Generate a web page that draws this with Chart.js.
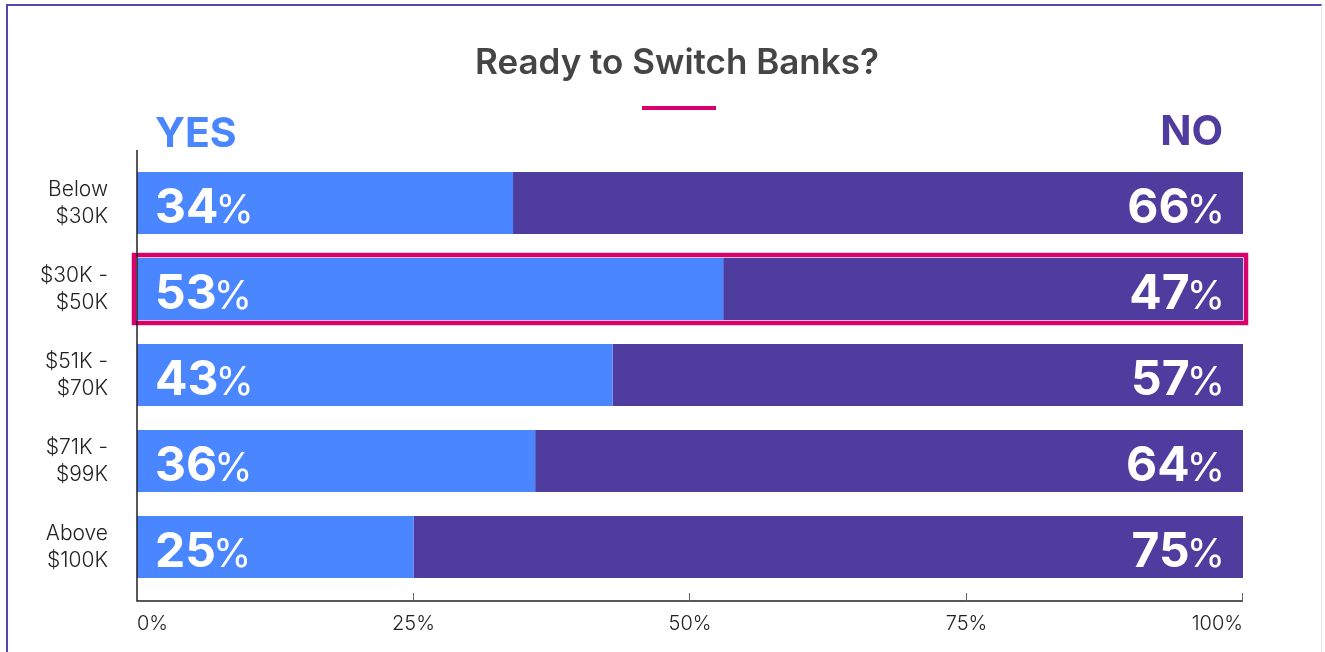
<!DOCTYPE html>
<html>
<head>
<meta charset="utf-8">
<script src="https://cdn.jsdelivr.net/npm/chart.js@4"></script>
<style>
  html, body { margin: 0; padding: 0; background: #fff; overflow: hidden; }
  #wrap { position: relative; width: 1325px; height: 652px; }
  #frame {
    position: absolute; left: 6px; top: 4px; width: 1316px; height: 700px;
    border-left: 2px solid #5546a8; border-top: 2px solid #5546a8;
    border-right: 1px solid #e4e4ee; box-sizing: border-box;
  }
  canvas { position: absolute; left: 0; top: 0; }
</style>
</head>
<body>
<div id="wrap">
  <div id="frame"></div>
  <canvas id="barChart"></canvas>
</div>
<script>
var categories = [["Below", "$30K"], ["$30K -", "$50K"], ["$51K -", "$70K"], ["$71K -", "$99K"], ["Above", "$100K"]];
var yesValues = [34, 53, 43, 36, 25];
var noValues = [66, 47, 57, 64, 75];
var xTicks = [0, 25, 50, 75, 100];
var highlightRow = 1;

var blue = "#4a86ff";
var purple = "#4e3c9e";
var pink = "#d8006d";

// title, underline, YES / NO heads
var headerPlugin = {
  id: "header",
  afterDraw: function (chart) {
    var c = chart.ctx;
    var area = chart.chartArea;
    c.save();
    c.fillStyle = "#454545";
    c.font = "600 35px Inter";
    c.textAlign = "center";
    c.textBaseline = "alphabetic";
    c.fillText("Ready to Switch Banks?", 677, 74);
    c.fillStyle = pink;
    c.fillRect(642, 106, 74, 4);

    c.font = "bold 41px Inter";
    c.textAlign = "left";
    c.fillStyle = blue;
    c.fillText("YES", area.left + 18, 147);
    c.textAlign = "right";
    c.fillStyle = purple;
    c.fillText("NO", area.right - 20, 145);
    c.restore();
  },
};

// axis lines drawn a little past the bar band, ticks pointing inward
var axisPlugin = {
  id: "axisLines",
  afterDraw: function (chart) {
    var c = chart.ctx;
    var area = chart.chartArea;
    var xs = chart.scales.x;
    var bottom = area.bottom + 11;
    c.save();
    c.strokeStyle = "#222";
    c.lineWidth = 1.5;
    c.beginPath();
    c.moveTo(area.left, area.top - 10);
    c.lineTo(area.left, bottom);
    c.lineTo(area.right, bottom);
    c.stroke();
    c.strokeStyle = "#666";
    c.lineWidth = 1;
    xTicks.forEach(function (t) {
      if (t === 0) return;
      var px = Math.round(xs.getPixelForValue(t)) - 0.5;
      c.beginPath();
      c.moveTo(px, bottom);
      c.lineTo(px, bottom - 8);
      c.stroke();
    });
    c.restore();
  },
};

// value labels inside the bars and the highlight box
var labelPlugin = {
  id: "barLabels",
  afterDatasetsDraw: function (chart) {
    var c = chart.ctx;
    var area = chart.chartArea;
    c.save();
    c.fillStyle = "#fff";
    c.textBaseline = "alphabetic";
    [0, 1].forEach(function (di) {
      var meta = chart.getDatasetMeta(di);
      var vals = chart.data.datasets[di].data;
      meta.data.forEach(function (bar, i) {
        var num = String(vals[i]);
        var y = bar.y + 20;
        c.font = "bold 48px Inter";
        var wNum = c.measureText(num).width;
        c.font = "400 39px Inter";
        var wPct = c.measureText("%").width;
        var gap = -3;
        var x0 = di === 0 ? bar.base + 18 : bar.x - 18 - wNum - wPct - gap;
        c.textAlign = "left";
        c.font = "bold 48px Inter";
        c.fillText(num, x0, y);
        c.font = "400 39px Inter";
        c.fillText("%", x0 + wNum + gap, y);
      });
    });

    var hb = chart.getDatasetMeta(0).data[highlightRow];
    var half = hb.height / 2;
    c.strokeStyle = pink;
    c.lineWidth = 4.5;
    c.strokeRect(area.left - 3, hb.y - half - 3, area.right - area.left + 6, half * 2 + 6);
    c.restore();
  },
};

var ctx = document.getElementById("barChart").getContext("2d");

new Chart(ctx, {
  type: "bar",
  data: {
    labels: categories,
    datasets: [
      { label: "YES", data: yesValues, backgroundColor: blue, barPercentage: 0.72, categoryPercentage: 1 },
      { label: "NO", data: noValues, backgroundColor: purple, barPercentage: 0.72, categoryPercentage: 1 },
    ],
  },
  options: {
    indexAxis: "y",
    responsive: true,
    maintainAspectRatio: false,
    animation: false,
    layout: { padding: { top: 160, right: 82, left: 0, bottom: 0 } },
    plugins: {
      legend: { display: false },
      tooltip: { enabled: false },
    },
    scales: {
      x: {
        stacked: true,
        min: 0,
        max: 100,
        grid: { display: false, drawTicks: false },
        border: { display: false },
        ticks: {
          stepSize: 25,
          align: "inner",
          padding: 22,
          color: "#222",
          font: { family: "Inter", size: 20, weight: "300" },
          callback: function (v) { return v + "%"; },
        },
        afterFit: function (scale) { scale.height = 62; },
      },
      y: {
        stacked: true,
        grid: { display: false, drawTicks: false },
        border: { display: false },
        ticks: {
          padding: 29,
          color: "#222",
          font: { family: "Inter", size: 21, weight: "300", lineHeight: "27px" },
        },
        afterFit: function (scale) { scale.width = 137; },
      },
    },
  },
  plugins: [headerPlugin, axisPlugin, labelPlugin],
});
</script>
</body>
</html>
